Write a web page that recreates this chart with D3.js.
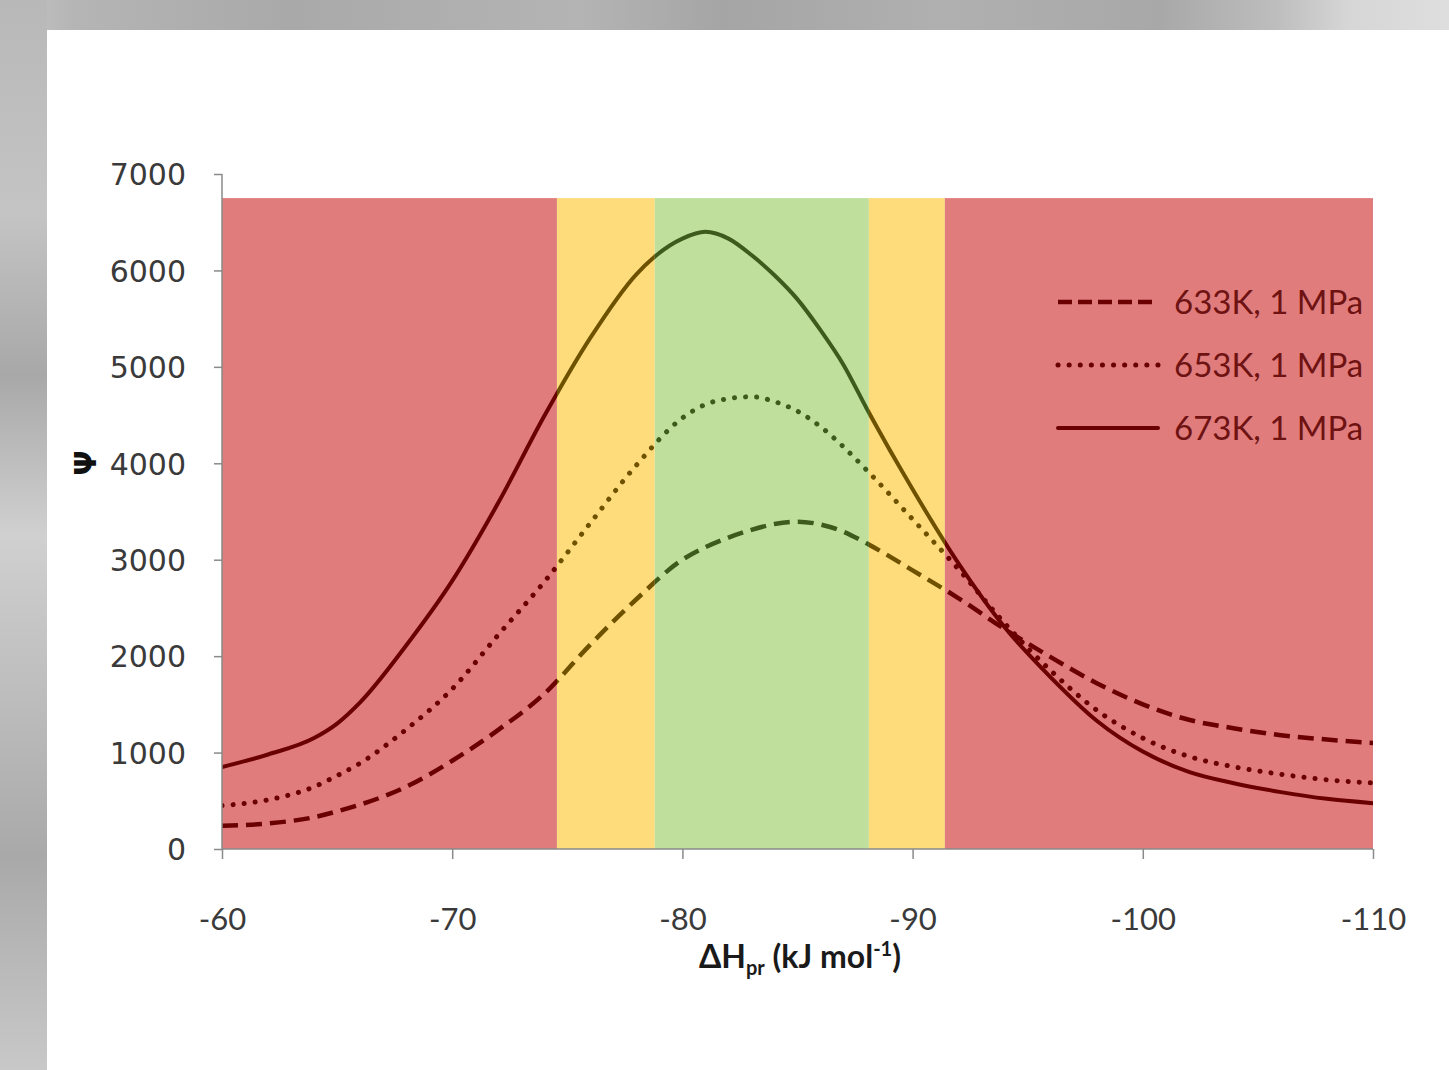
<!DOCTYPE html>
<html>
<head>
<meta charset="utf-8">
<script src="https://cdn.jsdelivr.net/npm/d3@7"></script>
<style>
  html, body { margin: 0; padding: 0; background: #fff; }
  svg { display: block; }
</style>
</head>
<body>
<div id="chart"></div>
<script>
// x values (kJ/mol) shared by the three series
var dH = [-60, -62, -64, -65, -66, -68, -70, -72, -74, -76, -78, -80, -81, -82, -83, -84, -85, -86, -87, -88, -90, -92, -94, -96, -98, -100, -102, -104, -106, -108, -110];

var psi633 = [240, 265, 330, 390, 460, 645, 915, 1235, 1610, 2120, 2590, 3000, 3130, 3230, 3310, 3370, 3395, 3365, 3290, 3170, 2890, 2600, 2280, 1990, 1720, 1500, 1340, 1250, 1180, 1135, 1100];
var psi653 = [450, 510, 645, 760, 890, 1240, 1660, 2220, 2770, 3380, 3980, 4470, 4610, 4670, 4690, 4640, 4540, 4380, 4170, 3930, 3420, 2900, 2340, 1850, 1440, 1150, 960, 850, 775, 718, 685];
var psi673 = [850, 980, 1150, 1300, 1520, 2110, 2780, 3590, 4490, 5300, 5960, 6330, 6400, 6330, 6160, 5950, 5700, 5380, 5020, 4570, 3730, 2960, 2300, 1780, 1330, 1010, 800, 680, 590, 520, 475];

var seriesNames = ["633K, 1 MPa", "653K, 1 MPa", "673K, 1 MPa"];

// background zones
var zoneFrom = [-60, -74.55, -78.8, -88.1, -91.4];
var zoneTo = [-74.55, -78.8, -88.1, -91.4, -110];
var zoneKind = ["red", "yellow", "green", "yellow", "red"];
var zoneTop = 6750;

var xTicks = [-60, -70, -80, -90, -100, -110];
var yTicks = [0, 1000, 2000, 3000, 4000, 5000, 6000, 7000];

var zoneFill = { red: "#e07c7c", yellow: "#fedc7c", green: "#bfe09d" };
var zoneLine = { red: "#6a0000", yellow: "#6e5200", green: "#3d5b1c" };

var W = 1449, H = 1070;
var svg = d3.select("#chart").append("svg").attr("width", W).attr("height", H);

// blurred photo border (top and left)
var defs = svg.append("defs");
var gTop = defs.append("linearGradient").attr("id", "gTop");
[[0, "#c8c8c8"], [0.05, "#b5b5b5"], [0.2, "#a9a9a9"], [0.4, "#b4b4b4"], [0.5, "#a5a5a5"], [0.65, "#b0b0b0"],
 [0.8, "#a8a8a8"], [0.88, "#bdbdbd"], [0.93, "#d6d6d6"], [1, "#dedede"]].forEach(function(s){
  gTop.append("stop").attr("offset", s[0]).attr("stop-color", s[1]);
});
var gLeft = defs.append("linearGradient").attr("id", "gLeft").attr("x1", 0).attr("y1", 0).attr("x2", 0).attr("y2", 1);
[[0, "#b8b8b8"], [0.2, "#c4c4c4"], [0.35, "#a8a8a8"], [0.5, "#d0d0d0"], [0.65, "#bdbdbd"], [0.8, "#a9a9a9"], [1, "#c8c8c8"]].forEach(function(s){
  gLeft.append("stop").attr("offset", s[0]).attr("stop-color", s[1]);
});
svg.append("rect").attr("x", 0).attr("y", 0).attr("width", W).attr("height", 30).attr("fill", "url(#gTop)");
svg.append("rect").attr("x", 0).attr("y", 0).attr("width", 47).attr("height", H).attr("fill", "url(#gLeft)");

var x = d3.scaleLinear().domain([-60, -110]).range([222, 1373]);
var y = d3.scaleLinear().domain([0, 7000]).range([849, 174]);

// zones
var zones = zoneFrom.map(function(f, i){ return { from: f, to: zoneTo[i], kind: zoneKind[i] }; });
svg.append("g").selectAll("rect").data(zones).enter().append("rect")
  .attr("x", function(d){ return x(d.from); })
  .attr("width", function(d){ return x(d.to) - x(d.from); })
  .attr("y", y(zoneTop))
  .attr("height", y(0) - y(zoneTop))
  .attr("fill", function(d){ return zoneFill[d.kind]; });

zones.forEach(function(d, i){
  defs.append("clipPath").attr("id", "clip" + i).append("rect")
    .attr("x", x(d.from)).attr("width", x(d.to) - x(d.from))
    .attr("y", 100).attr("height", 800);
});

var series = [
  { name: seriesNames[0], values: psi633, dash: "16,8", cap: "butt", width: 4.5 },
  { name: seriesNames[1], values: psi653, dash: "0.1,11", cap: "round", width: 5 },
  { name: seriesNames[2], values: psi673, dash: null, cap: "round", width: 4 }
];

// x decreases left to right, so feed pixel x to monotone curve
var line = d3.line()
  .x(function(d){ return x(d[0]); })
  .y(function(d){ return y(d[1]); })
  .curve(d3.curveMonotoneX);

zones.forEach(function(z, i){
  var g = svg.append("g").attr("clip-path", "url(#clip" + i + ")");
  series.forEach(function(s){
    g.append("path")
      .datum(dH.map(function(v, k){ return [v, s.values[k]]; }))
      .attr("d", line)
      .attr("fill", "none")
      .attr("stroke", zoneLine[z.kind])
      .attr("stroke-width", s.width)
      .attr("stroke-linecap", s.cap)
      .attr("stroke-dasharray", s.dash);
  });
});

// axes
var fmt = function(d){ return String(d); };   // plain hyphen minus
var axisColor = "#8a8a8a";
var yAxis = svg.append("g").attr("transform", "translate(222,0)")
  .call(d3.axisLeft(y).tickValues(yTicks).tickSize(8).tickFormat(fmt));
var xAxis = svg.append("g").attr("transform", "translate(0,849)")
  .call(d3.axisBottom(x).tickValues(xTicks).tickSize(10).tickFormat(fmt));
[yAxis, xAxis].forEach(function(a){
  a.select(".domain").attr("stroke", axisColor).attr("stroke-width", 1.5);
  a.selectAll(".tick line").attr("stroke", axisColor).attr("stroke-width", 1.5);
  a.selectAll(".tick text").attr("fill", "#3a3a3a");
});
yAxis.select(".domain").attr("d", "M0," + y(7000) + "V" + y(0));
yAxis.selectAll(".tick text")
  .attr("x", -36).attr("dy", "0.36em")
  .style("font-family", "'DejaVu Sans', Verdana, sans-serif").style("font-size", "30px");
xAxis.select(".domain").attr("d", "M" + x(-60) + ",0H" + x(-110));
xAxis.selectAll(".tick text")
  .attr("y", 81).attr("dy", 0)
  .style("font-family", "Lato, 'Open Sans', sans-serif").style("font-size", "31px");

// axis titles
var xt = svg.append("text").attr("x", 800).attr("y", 968).attr("text-anchor", "middle")
  .style("font-family", "Lato, 'Open Sans', sans-serif").style("font-weight", "bold")
  .style("font-size", "32px").attr("fill", "#1a1a1a");
xt.append("tspan").text("ΔH");
xt.append("tspan").text("pr").attr("dy", 7).style("font-size", "20px");
xt.append("tspan").text(" (kJ mol").attr("dy", -7);
xt.append("tspan").text("-1").attr("dy", -12).style("font-size", "20px");
xt.append("tspan").text(")").attr("dy", 12);

svg.append("text").attr("transform", "translate(96,463) rotate(-90)")
  .attr("text-anchor", "middle")
  .style("font-family", "'DejaVu Sans', sans-serif").style("font-weight", "bold")
  .style("font-size", "30px").attr("fill", "#111").text("Ψ");

// legend
var legY = [302, 365, 428];
var leg = svg.append("g");
series.forEach(function(s, i){
  leg.append("line")
    .attr("x1", 1058).attr("x2", 1158).attr("y1", legY[i]).attr("y2", legY[i])
    .attr("stroke", zoneLine.red)
    .attr("stroke-width", s.width)
    .attr("stroke-linecap", s.cap)
    .attr("stroke-dasharray", i === 0 ? "14,6" : s.dash);
  leg.append("text").attr("x", 1174).attr("y", legY[i]).attr("dy", "0.35em")
    .style("font-family", "Lato, 'Open Sans', sans-serif").style("font-size", "33px")
    .attr("fill", "#6e1212").text(s.name);
});
</script>
</body>
</html>
